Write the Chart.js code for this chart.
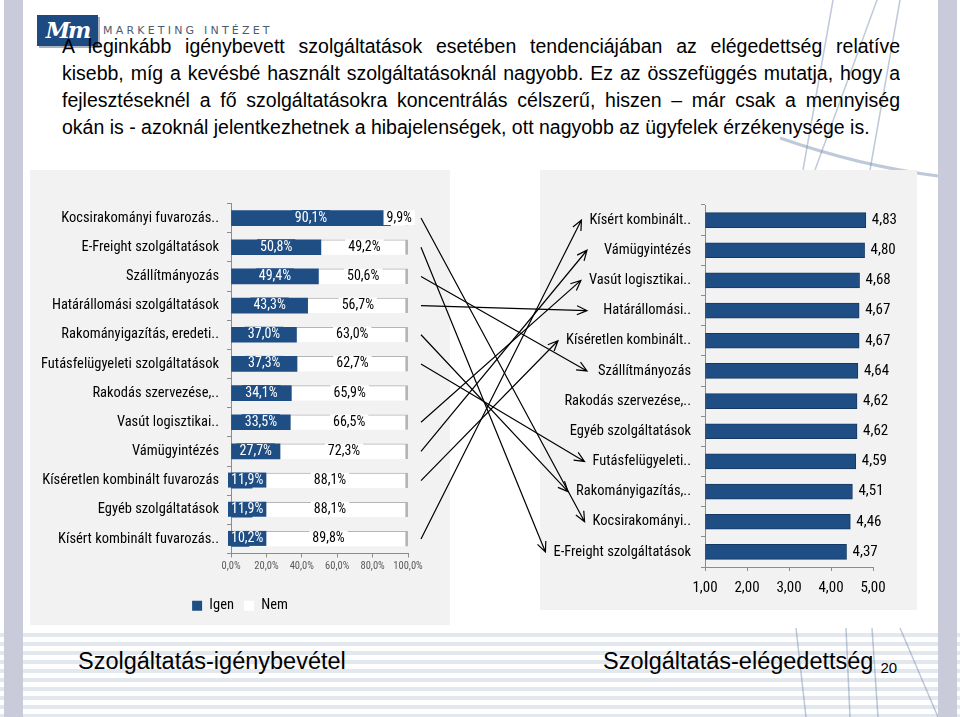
<!DOCTYPE html>
<html>
<head>
<meta charset="utf-8">
<script src="https://cdn.jsdelivr.net/npm/chart.js@4.4.1/dist/chart.umd.min.js"></script>
<style>
  body { margin: 0; width: 960px; height: 717px; overflow: hidden; background: #fff; position: relative;
         font-family: "Liberation Sans", Arial, sans-serif; }
  .bar-side { position: absolute; top: 0; height: 717px; background: #c9cbdb; }
  .stripes { position: absolute; left: 0; top: 628px; width: 960px; height: 89px;
             background: repeating-linear-gradient(to bottom, #ffffff 0 5px, #e3e7ee 5px 9px); }
  .logo { position: absolute; left: 37px; top: 15px; width: 61px; height: 31px; background: #1d4a80;
          box-shadow: 2px 2px 0 #a9b2c2; color: #fff; font: italic bold 22px "DejaVu Serif", serif;
          line-height: 31px; text-align: center; letter-spacing: -2px; }
  .logo-text { position: absolute; left: 103px; top: 24px; font: 11px "DejaVu Sans", sans-serif;
               letter-spacing: 3.2px; color: #4d5b70; }
  .para { position: absolute; left: 62px; width: 838px; font-size: 19.5px; color: #000; }
  .para div { height: 27px; line-height: 27px; white-space: nowrap; }
  .para .j { text-align: justify; text-align-last: justify; white-space: normal; overflow: hidden; }
  .panel { position: absolute; background: #f2f2f2; }
  .foot { position: absolute; top: 648px; font-size: 23.5px; color: #000; }
  #arrows { position: absolute; left: 0; top: 0; pointer-events: none; }
</style>
</head>
<body>
<div class="stripes"></div>
<svg style="position:absolute;left:0;top:0" width="960" height="717">
  <g fill="none" stroke="rgba(110,135,170,0.45)" stroke-width="1.5">
    <line x1="833" y1="0" x2="803" y2="170"/>
    <line x1="877" y1="0" x2="815" y2="170"/>
    <line x1="900" y1="0" x2="870" y2="170"/>
    <path d="M 780 138 Q 860 166 938 176" stroke-width="3"/>
    <line x1="796" y1="628" x2="806" y2="717"/>
    <line x1="846" y1="628" x2="850" y2="717"/>
    <line x1="872" y1="628" x2="878" y2="717"/>
    <line x1="900" y1="628" x2="938" y2="717"/>
  </g>
</svg>
<div class="bar-side" style="left:4px;width:19px"></div>
<div class="bar-side" style="left:938px;width:19px"></div>
<div class="logo">Mm</div>
<div class="logo-text">MARKETING INTÉZET</div>
<div class="para" style="top:33px">
  <div class="j">A leginkább igénybevett szolgáltatások esetében tendenciájában az elégedettség relatíve</div>
  <div class="j">kisebb, míg a kevésbé használt szolgáltatásoknál nagyobb. Ez az összefüggés mutatja, hogy a</div>
  <div class="j">fejlesztéseknél a fő szolgáltatásokra koncentrálás célszerű, hiszen – már csak a mennyiség</div>
  <div>okán is - azoknál jelentkezhetnek a hibajelenségek, ott nagyobb az ügyfelek érzékenysége is.</div>
</div>

<div class="panel" style="left:30px;top:170px;width:420px;height:455px">
  <canvas id="left" width="420" height="455"></canvas>
</div>
<div class="panel" style="left:540px;top:170px;width:377px;height:440px">
  <canvas id="right" width="377" height="440"></canvas>
</div>

<div class="foot" style="left:78px">Szolgáltatás-igénybevétel</div>
<div class="foot" style="left:603px">Szolgáltatás-elégedettség<span style="font-size:15px;position:relative;top:4px;margin-left:7px">20</span></div>

<canvas id="arrows" width="960" height="717"></canvas>

<script>
// ---- adatok ----
const leftLabels = [
  "Kocsirakományi fuvarozás..", "E-Freight szolgáltatások", "Szállítmányozás",
  "Határállomási szolgáltatások", "Rakományigazítás, eredeti..", "Futásfelügyeleti szolgáltatások",
  "Rakodás szervezése,..", "Vasút logisztikai..", "Vámügyintézés",
  "Kíséretlen kombinált fuvarozás", "Egyéb szolgáltatások", "Kísért kombinált fuvarozás.."
];
const igenValues = [90.1, 50.8, 49.4, 43.3, 37.0, 37.3, 34.1, 33.5, 27.7, 11.9, 11.9, 10.2];
const nemValues  = [9.9, 49.2, 50.6, 56.7, 63.0, 62.7, 65.9, 66.5, 72.3, 88.1, 88.1, 89.8];
const leftTicks = ["0,0%", "20,0%", "40,0%", "60,0%", "80,0%", "100,0%"];

const rightLabels = [
  "Kísért kombinált..", "Vámügyintézés", "Vasút logisztikai..", "Határállomási..",
  "Kíséretlen kombinált..", "Szállítmányozás", "Rakodás szervezése,..", "Egyéb szolgáltatások",
  "Futásfelügyeleti..", "Rakományigazítás,..", "Kocsirakományi..", "E-Freight szolgáltatások"
];
const rightValues = [4.83, 4.80, 4.68, 4.67, 4.67, 4.64, 4.62, 4.62, 4.59, 4.51, 4.46, 4.37];
const rightTicks = ["1,00", "2,00", "3,00", "4,00", "5,00"];

// bal oldali index -> jobb oldali index
const arrowLinks = [[0, 10], [1, 11], [2, 5], [3, 3], [4, 9], [5, 8], [7, 2], [8, 1], [9, 4], [11, 0]];

const NARROW = "'Roboto Condensed', 'Liberation Sans', Arial, sans-serif";
const BLUE = "#1f4e85";
const AXIS = "#8c8c8c";

// feliratok a sávokra
const barLabels = {
  id: "barLabels",
  afterDatasetsDraw(chart, args, opts) {
    const ctx = chart.ctx;
    ctx.save();
    ctx.textBaseline = "middle";
    chart.data.datasets.forEach((ds, di) => {
      const meta = chart.getDatasetMeta(di);
      meta.data.forEach((el, i) => {
        const v = ds.data[i];
        if (opts.mode === "stack") {
          const txt = v.toFixed(1).replace(".", ",") + "%";
          ctx.font = "14px " + NARROW;
          const w = ctx.measureText(txt).width + 6;
          let cx = (el.x + el.base) / 2;
          let bx = Math.max(cx - w / 2, chart.chartArea.left - 3);
          ctx.fillStyle = di === 0 ? BLUE : "#ffffff";
          ctx.fillRect(bx, el.y - 8, w, 15);
          ctx.fillStyle = di === 0 ? "#ffffff" : "#000000";
          ctx.textAlign = "center";
          ctx.fillText(txt, bx + w / 2, el.y);
        } else {
          const txt = v.toFixed(2).replace(".", ",");
          ctx.font = "15px " + NARROW;
          ctx.fillStyle = "#000";
          ctx.textAlign = "left";
          ctx.fillText(txt, el.x + 6, el.y);
        }
      });
    });
    ctx.restore();
  }
};

const leftChart = new Chart(document.getElementById("left"), {
  type: "bar",
  data: {
    labels: leftLabels,
    datasets: [
      { label: "Igen", data: igenValues, backgroundColor: BLUE, barThickness: 15 },
      { label: "Nem", data: nemValues, backgroundColor: "#ffffff", borderColor: "#b5b5b5",
        borderWidth: { top: 1, right: 3, bottom: 0, left: 0 }, borderSkipped: false, barThickness: 15 }
    ]
  },
  options: {
    indexAxis: "y",
    responsive: false,
    animation: false,
    devicePixelRatio: 1,
    layout: { padding: { top: 33.5, right: 0, left: 0, bottom: 2 } },
    scales: {
      x: {
        stacked: true, min: 0, max: 100,
        ticks: { stepSize: 20, color: "#595959", font: { family: NARROW, size: 10.5 }, padding: 3,
                 maxRotation: 0, autoSkip: false, callback: (v, i) => leftTicks[i] },
        grid: { drawOnChartArea: false, tickLength: 4, color: AXIS },
        border: { color: AXIS },
        afterFit: s => { s.height = 35; }
      },
      y: {
        stacked: true,
        ticks: { color: "#000", font: { family: NARROW, size: 14.5 }, padding: 8, autoSkip: false },
        grid: { drawOnChartArea: false, tickLength: 4, color: AXIS },
        border: { color: AXIS },
        afterFit: s => { s.width = 201; }
      },
      // üres jobb oldali sáv, hogy a jelmagyarázat középre kerüljön
      spacer: {
        type: "linear", position: "right", display: true,
        ticks: { display: false }, grid: { display: false }, border: { display: false },
        afterFit: s => { s.width = 42; }
      }
    },
    plugins: {
      legend: {
        position: "bottom",
        labels: {
          boxWidth: 10, boxHeight: 10, padding: 10, color: "#000",
          font: { family: NARROW, size: 14.5 },
          generateLabels: c => Chart.defaults.plugins.legend.labels.generateLabels(c)
            .map(l => Object.assign(l, { lineWidth: 0 }))
        }
      },
      tooltip: { enabled: false },
      barLabels: { mode: "stack" }
    }
  },
  plugins: [barLabels]
});

const rightChart = new Chart(document.getElementById("right"), {
  type: "bar",
  data: {
    labels: rightLabels,
    datasets: [
      { label: "Elégedettség", data: rightValues, base: 1, backgroundColor: BLUE,
        borderColor: "#153863", borderWidth: 1, borderSkipped: false, barThickness: 15 }
    ]
  },
  options: {
    indexAxis: "y",
    responsive: false,
    animation: false,
    devicePixelRatio: 1,
    layout: { padding: { top: 35, right: 44, left: 0, bottom: 0 } },
    scales: {
      x: {
        min: 1, max: 5,
        ticks: { stepSize: 1, color: "#000", font: { family: NARROW, size: 15 }, padding: 8,
                 maxRotation: 0, autoSkip: false, callback: (v, i) => rightTicks[i] },
        grid: { drawOnChartArea: false, tickLength: 4, color: AXIS },
        border: { color: AXIS },
        afterFit: s => { s.height = 43; }
      },
      y: {
        ticks: { color: "#000", font: { family: NARROW, size: 14.5 }, padding: 10, autoSkip: false },
        grid: { drawOnChartArea: false, tickLength: 4, color: AXIS },
        border: { color: AXIS },
        afterFit: s => { s.width = 165; }
      }
    },
    plugins: {
      legend: { display: false },
      tooltip: { enabled: false },
      barLabels: { mode: "value" }
    }
  },
  plugins: [barLabels]
});

// nyilak a két diagram között
function drawArrows() {
  const cv = document.getElementById("arrows");
  const ctx = cv.getContext("2d");
  ctx.clearRect(0, 0, cv.width, cv.height);
  const lb = leftChart.canvas.getBoundingClientRect();
  const rb = rightChart.canvas.getBoundingClientRect();
  const ys = rightChart.scales.y;
  ctx.font = "14.5px " + NARROW;
  ctx.strokeStyle = "#000";
  ctx.lineWidth = 1.2;
  arrowLinks.forEach(([li, ri]) => {
    const x1 = lb.left + leftChart.chartArea.right + 13;
    const y1 = lb.top + leftChart.scales.y.getPixelForValue(li);
    const labelLeft = rb.left + ys.right - 4 - 10 - ctx.measureText(rightLabels[ri]).width;
    const x2 = Math.min(labelLeft - 8, rb.left + ys.right - 118);
    const y2 = rb.top + ys.getPixelForValue(ri);
    ctx.beginPath();
    ctx.moveTo(x1, y1);
    ctx.lineTo(x2, y2);
    const a = Math.atan2(y2 - y1, x2 - x1);
    const h = 11, sp = 0.42;
    ctx.moveTo(x2 - h * Math.cos(a - sp), y2 - h * Math.sin(a - sp));
    ctx.lineTo(x2, y2);
    ctx.lineTo(x2 - h * Math.cos(a + sp), y2 - h * Math.sin(a + sp));
    ctx.stroke();
  });
}
drawArrows();
</script>
</body>
</html>
